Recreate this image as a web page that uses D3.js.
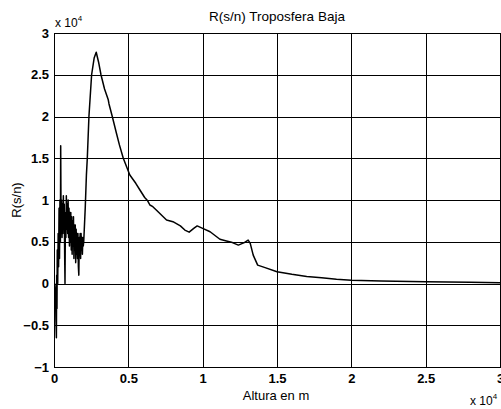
<!DOCTYPE html>
<head>
  <meta charset="utf-8">
  <style>
    body { margin: 0; background: #fff; }
    svg { font-family: "Liberation Sans", Arial, sans-serif; }
    .grid line { stroke: #000; stroke-width: 1; shape-rendering: crispEdges; }
    .axis path, .axis line { stroke: #000; shape-rendering: crispEdges; }
    .axis text { font-size: 13px; font-weight: bold; fill: #000; }
  </style>
  <script src="https://d3js.org/d3.v7.min.js"></script>
</head>
<body>
  <script>
    // altura en unidades de 1e4 m, R(s/n) en unidades de 1e4
    var altura = [0.005, 0.010, 0.013, 0.016, 0.018, 0.020, 0.022, 0.025, 0.028, 0.031,
                  0.034, 0.037, 0.040, 0.043, 0.045, 0.048, 0.051, 0.054, 0.057, 0.060,
                  0.063, 0.066, 0.069, 0.072, 0.074, 0.077, 0.080, 0.083, 0.086, 0.089,
                  0.092, 0.095, 0.098, 0.101, 0.104, 0.107, 0.110, 0.113, 0.116, 0.119,
                  0.122, 0.125, 0.128, 0.131, 0.134, 0.137, 0.140, 0.143, 0.146, 0.149,
                  0.152, 0.155, 0.158, 0.161, 0.164, 0.167, 0.170, 0.173, 0.176, 0.179,
                  0.182, 0.185, 0.188, 0.191, 0.194, 0.197, 0.200,
                  0.21, 0.218, 0.224, 0.235, 0.253, 0.27, 0.284,
                  0.30, 0.316, 0.34, 0.365, 0.37, 0.392, 0.42, 0.44, 0.466, 0.51,
                  0.55, 0.578, 0.61, 0.63, 0.645, 0.665, 0.70, 0.757, 0.80, 0.85,
                  0.88, 0.909, 0.94, 0.963, 1.0, 1.05, 1.116, 1.16, 1.2, 1.24,
                  1.28, 1.306, 1.32, 1.34, 1.37, 1.42, 1.5, 1.6, 1.7, 1.8,
                  1.9, 2.0, 2.2, 2.5, 2.8, 3.0];
    var rsn = [0, -0.1, -0.45, -0.65, 0.1, -0.3, 0.4, 0.0, 0.6, 0.2,
               0.9, 0.3, 1.0, 0.5, 1.65, 0.6, 1.0, 0.55, 0.95, 0.6,
               1.05, 0.7, 0.95, 0.3, 0.0, 0.85, 0.55, 1.05, 0.65, 0.95,
               0.6, 1.0, 0.55, 0.9, 0.45, 0.85, 0.5, 0.85, 0.4, 0.8,
               0.35, 0.75, 0.45, 0.8, 0.3, 0.7, 0.4, 0.7, 0.25, 0.65,
               0.35, 0.6, 0.3, 0.6, 0.2, 0.1, 0.55, 0.35, 0.6, 0.3,
               0.6, 0.4, 0.55, 0.35, 0.55, 0.45, 0.5,
               0.9, 1.3, 1.5, 2.0, 2.5, 2.7, 2.77,
               2.65, 2.5, 2.33, 2.2, 2.15, 2.0, 1.8, 1.66, 1.5, 1.3,
               1.2, 1.12, 1.03, 0.99, 0.94, 0.92, 0.86, 0.76, 0.74, 0.69,
               0.64, 0.615, 0.66, 0.69, 0.66, 0.62, 0.53, 0.51, 0.49, 0.46,
               0.49, 0.52, 0.48, 0.34, 0.22, 0.19, 0.14, 0.11, 0.085, 0.07,
               0.05, 0.04, 0.03, 0.02, 0.015, 0.01];
    var xTicks = [0, 0.5, 1, 1.5, 2, 2.5, 3];
    var yTicks = [-1, -0.5, 0, 0.5, 1, 1.5, 2, 2.5, 3];

    var w = 501, h = 409;
    var mLeft = 54, mRight = 500, mTop = 33, mBottom = 367;

    var x = d3.scaleLinear().domain([0, 3]).range([mLeft, mRight]);
    var y = d3.scaleLinear().domain([-1, 3]).range([mBottom, mTop]);

    var svg = d3.select("body").append("svg")
      .attr("width", w).attr("height", h);

    // grid
    var grid = svg.append("g").attr("class", "grid");
    grid.selectAll(".gx").data(xTicks).enter().append("line")
      .attr("x1", function(d) { return Math.round(x(d)) + 0.5; })
      .attr("x2", function(d) { return Math.round(x(d)) + 0.5; })
      .attr("y1", mTop).attr("y2", mBottom);
    grid.selectAll(".gy").data(yTicks).enter().append("line")
      .attr("y1", function(d) { return Math.round(y(d)) + 0.5; })
      .attr("y2", function(d) { return Math.round(y(d)) + 0.5; })
      .attr("x1", mLeft).attr("x2", mRight);

    // axes
    svg.append("g").attr("class", "axis")
      .attr("transform", "translate(0," + mBottom + ")")
      .call(d3.axisBottom(x).tickValues(xTicks).tickSize(0).tickPadding(7)
        .tickFormat(d3.format("")));
    svg.append("g").attr("class", "axis")
      .attr("transform", "translate(" + mLeft + ",0)")
      .call(d3.axisLeft(y).tickValues(yTicks).tickSize(0).tickPadding(5)
        .tickFormat(d3.format("")));

    // curve
    var line = d3.line()
      .x(function(d, i) { return x(altura[i]); })
      .y(function(d) { return y(d); });
    svg.append("path")
      .datum(rsn)
      .attr("d", line)
      .attr("fill", "none")
      .attr("stroke", "#000")
      .attr("stroke-width", 1.5)
      .attr("stroke-linejoin", "round");

    // texts
    svg.append("text").attr("x", 277).attr("y", 21)
      .attr("text-anchor", "middle").attr("font-size", "13.5px")
      .text("R(s/n) Troposfera Baja");

    svg.append("text").attr("x", 276).attr("y", 400)
      .attr("text-anchor", "middle").attr("font-size", "13px")
      .text("Altura en m");

    svg.append("text")
      .attr("transform", "translate(21,200) rotate(-90)")
      .attr("text-anchor", "middle").attr("font-size", "13px")
      .text("R(s/n)");

    var e1 = svg.append("text").attr("x", 55).attr("y", 27).attr("font-size", "12px");
    e1.append("tspan").text("x 10");
    e1.append("tspan").attr("dy", -6).attr("font-size", "8px").text("4");

    var e2 = svg.append("text").attr("x", 470).attr("y", 405).attr("font-size", "12px");
    e2.append("tspan").text("x 10");
    e2.append("tspan").attr("dy", -6).attr("font-size", "8px").text("4");
  </script>
</body>
